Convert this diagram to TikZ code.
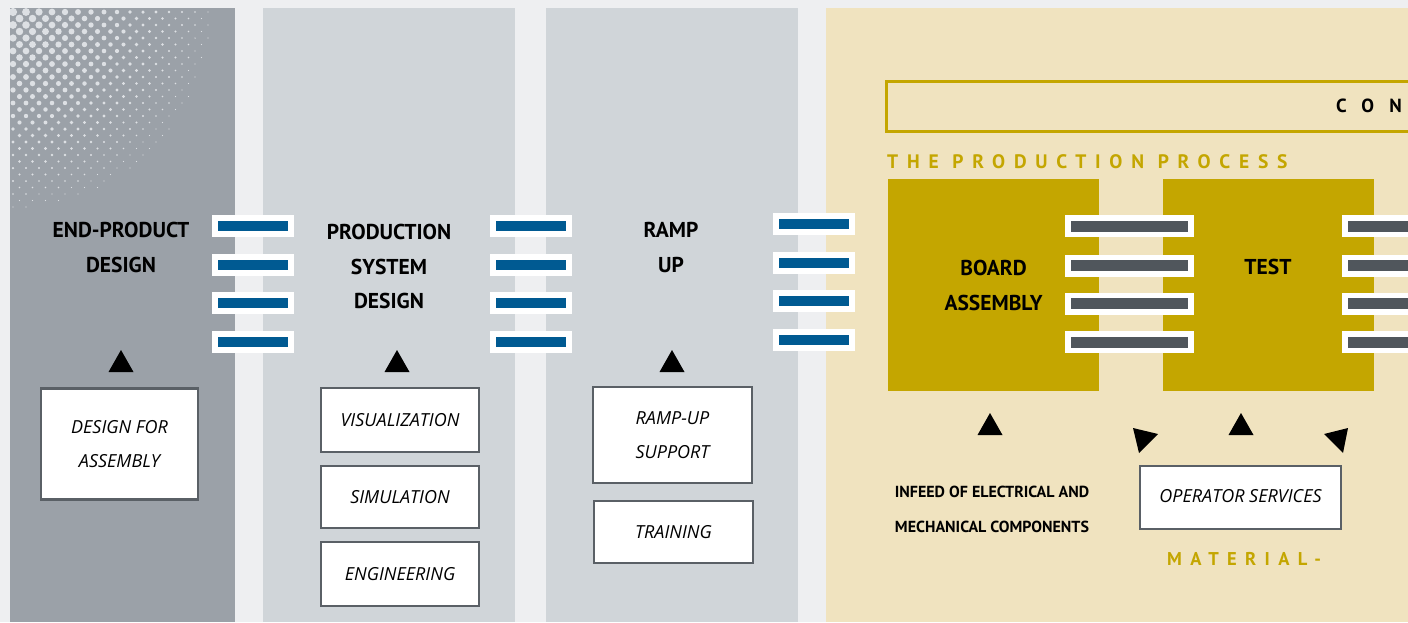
\documentclass[tikz,border=0pt]{standalone}
\usepackage{fontspec}
\setmainfont{PT Sans}
\newfontfamily\itfont{Open Sans}
\newfontfamily\spacedA[LetterSpace=45]{PT Sans}
\newfontfamily\spacedB[LetterSpace=80]{PT Sans}
\definecolor{bgc}{HTML}{EEEFF1}
\definecolor{panelA}{HTML}{9BA1A8}
\definecolor{panelB}{HTML}{D0D5D9}
\definecolor{panelC}{HTML}{F0E3BF}
\definecolor{goldc}{HTML}{C4A600}
\definecolor{barblue}{HTML}{005A92}
\definecolor{bargrey}{HTML}{50565C}
\definecolor{boxline}{HTML}{5A6066}
\definecolor{dotc}{HTML}{DDE0E4}
\tikzset{
  lbl/.style={font=\bfseries\fontsize{21.5}{35}\selectfont, align=center, text=black, inner sep=0},
  smalllbl/.style={font=\bfseries\fontsize{16}{35}\selectfont, align=center, text=black, inner sep=0},
  itbox/.style={draw=boxline, line width=2.5pt, fill=white, font=\itfont\itshape\fontsize{18}{34}\selectfont, align=center, inner sep=0},
  goldbox/.style={fill=goldc, inner sep=0},
  tri/.style={fill=black},
}
\newcommand\bluebar[2]{%
  \fill[white] (#1,#2-11) rectangle (#1+82,#2+11);
  \fill[barblue] (#1+6,#2-5) rectangle (#1+76,#2+5);}
\newcommand\greybar[2]{%
  \fill[white] (#1,#2-11) rectangle (#1+129,#2+11);
  \fill[bargrey] (#1+6,#2-5.5) rectangle (#1+123,#2+5.5);}
\newcommand\uptri[2]{\fill[tri] (#1-12.5,#2+11) -- (#1+12.5,#2+11) -- (#1,#2-11) -- cycle;}
\begin{document}
\begin{tikzpicture}[x=1pt,y=-1pt]
\useasboundingbox (0,0) rectangle (1408,622);
\clip (0,0) rectangle (1408,622);
\fill[bgc] (0,0) rectangle (1408,622);
% panels
\fill[panelA] (10,8) rectangle (235,622);
\fill[panelB] (263,8) rectangle (515,622);
\fill[panelB] (546,8) rectangle (798,622);
\fill[panelC] (826,8) rectangle (1408,622);
% halftone
\begin{scope}
\clip (10,8) rectangle (235,622);
\foreach \j in {0,...,35}{
  \foreach \i in {0,...,17}{
    \pgfmathsetmacro\px{13+13*\i+6.5*mod(\j,2)}
    \pgfmathsetmacro\py{12+6.5*\j}
    \pgfmathsetmacro\rr{4.2*(1-veclen(\px-10,\py-8)/228)}
    \ifdim\rr pt>0.5pt
      \fill[dotc] (\px,\py) circle[radius=\rr];
    \fi
  }}
\end{scope}
% blue connector bars
\foreach \y in {226,265,303,342}{\bluebar{212}{\y}\bluebar{490}{\y}}
\foreach \y in {224,263,301,340}{\bluebar{773}{\y}}
% gold process boxes
\node[goldbox, minimum width=211pt, minimum height=212pt, lbl] (board) at (993.5,285) {BOARD\\ASSEMBLY};
\node[goldbox, minimum width=211pt, minimum height=212pt] (test) at (1268.5,285) {};
\node[lbl] (testlbl) at (1268,267) {TEST};
\foreach \y in {226,265.5,303.5,342}{\greybar{1065}{\y}\greybar{1342}{\y}}
% top control box
\draw[goldc, line width=3pt] (886,81) rectangle (1430,131);
\node[anchor=west, inner sep=0, font=\spacedB\bfseries\fontsize{19}{20}\selectfont] (ctrl) at (1336,106) {CONT};
\node[anchor=west, inner sep=0, text=goldc, font=\spacedA\bfseries\fontsize{19.5}{20}\selectfont] (proc) at (887,162) {THE PRODUCTION PROCESS};
% headings
\node[lbl] (epd) at (121,247.5) {END-PRODUCT\\DESIGN};
\node[lbl, font=\bfseries\fontsize{21.5}{34.5}\selectfont] (psd) at (389,266.5) {PRODUCTION\\SYSTEM\\DESIGN};
\node[lbl] (ramp) at (671,247.5) {RAMP\\UP};
% triangles
\uptri{121}{361}
\uptri{397}{361}
\uptri{672}{361}
\uptri{990}{424}
\uptri{1241}{424}
\fill[tri] (1133,428) -- (1158,434) -- (1139,453) -- cycle;
\fill[tri] (1348,428) -- (1324,434) -- (1343,453) -- cycle;
% service boxes
\node[itbox, minimum width=157pt, minimum height=111pt] (dfa) at (119.5,444) {DESIGN FOR\\ASSEMBLY};
\node[itbox, minimum width=158pt, minimum height=64pt] (vis) at (400,420) {VISUALIZATION};
\node[itbox, minimum width=158pt, minimum height=62pt] (sim) at (400,497) {SIMULATION};
\node[itbox, minimum width=158pt, minimum height=64pt] (eng) at (400,574) {ENGINEERING};
\node[itbox, minimum width=159pt, minimum height=96pt] (rus) at (672.5,435) {RAMP-UP\\SUPPORT};
\node[itbox, minimum width=159pt, minimum height=62pt] (trn) at (673.5,532) {TRAINING};
\node[itbox, minimum width=201pt, minimum height=63pt] (ops) at (1240.5,497.5) {\raisebox{4pt}{OPERATOR SERVICES}};
% infeed text
\node[smalllbl] (infeed) at (992,509.5) {INFEED OF ELECTRICAL AND\\MECHANICAL COMPONENTS};
\node[anchor=west, inner sep=0, text=goldc, font=\spacedA\bfseries\fontsize{18.5}{20}\selectfont] (mat) at (1167,559) {MATERIAL-};
\end{tikzpicture}
\end{document}
